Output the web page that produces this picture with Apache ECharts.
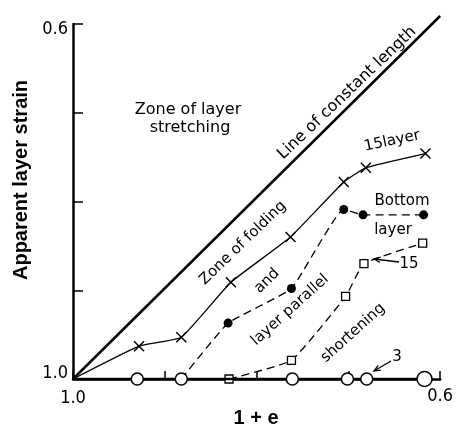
<!DOCTYPE html>
<html><head><meta charset="utf-8">
<script src="https://cdn.jsdelivr.net/npm/echarts@6/dist/echarts.min.js"></script>
<style>html,body{margin:0;padding:0;background:#fff}#c{width:456px;height:428px}</style>
</head><body><div id="c"></div>
<script>
// Data (x = 1+e, y = apparent layer strain)
const layer15X = [1.0, 0.928, 0.882, 0.828, 0.763, 0.705, 0.681, 0.616];
const layer15Y = [1.0, 0.963, 0.953, 0.891, 0.840, 0.778, 0.762, 0.746];
const bottomX = [0.882, 0.831, 0.762, 0.705, 0.684, 0.618];
const bottomY = [1.0, 0.937, 0.898, 0.809, 0.815, 0.815];
const sq15X = [0.830, 0.762, 0.703, 0.683, 0.619];
const sq15Y = [1.0, 0.979, 0.907, 0.870, 0.847];
const layer3X = [1.0, 0.930, 0.882, 0.761, 0.701, 0.680, 0.617];
const layer3Y = [1.0, 1.0, 1.0, 1.0, 1.0, 1.0, 1.0];
const constX = [1.0, 0.6];
const constY = [1.0, 0.591];
const xTickLabels = {'1.0': '{a|1.0}', '0.6': '{b|0.6}'};
const yTickLabels = {'1.0': '{a|1.0}', '0.6': '{b|0.6}'};

const TFONT = '"DejaVu Sans Condensed","Liberation Sans Narrow","DejaVu Sans",sans-serif';
const FONT = '"DejaVu Sans",sans-serif';
const zip = (a, b) => a.map((v, i) => [v, b[i]]);

const chart = echarts.init(document.getElementById('c'), null, {renderer: 'canvas'});
const crossPath = 'path://M0,0L10,10M10,0L0,10';

function fmt(map) {
  return v => { const k = (Math.round(v * 10) / 10).toFixed(1); return map[k] || ''; };
}

const l15 = zip(layer15X, layer15Y).map((p, i) => i === 0 ? {value: p, symbol: 'none'} : p);
const bot = zip(bottomX, bottomY).map((p, i) => i === 0 ? {value: p, symbol: 'none'} : p);
const l3 = zip(layer3X, layer3Y).map((p, i) => i === 0 ? {value: p, symbol: 'none'} : (i === layer3X.length - 1 ? {value: p, symbolSize: 15} : p));

function t(x, y, text, opts) {
  return {type: 'text', x: x, y: y, rotation: (opts && opts.rot || 0) * Math.PI / 180,
    style: {text: text, font: (opts && opts.font) || ('15px ' + FONT), fill: '#000', align: 'center', verticalAlign: 'middle'}};
}
function arrow(x1, y1, x2, y2) {
  const a = Math.atan2(y2 - y1, x2 - x1), L = 7, w = 0.4;
  return [
    {type: 'line', shape: {x1: x1, y1: y1, x2: x2, y2: y2}, style: {stroke: '#000', lineWidth: 1.3}},
    {type: 'polyline', shape: {points: [[x2 - L * Math.cos(a - w), y2 - L * Math.sin(a - w)], [x2, y2], [x2 - L * Math.cos(a + w), y2 - L * Math.sin(a + w)]]}, style: {stroke: '#000', lineWidth: 1.3, fill: null}}
  ];
}

const option = {
  animation: false,
  backgroundColor: '#fff',
  grid: {left: 73, right: 13, top: 24, bottom: 49, containLabel: false},
  xAxis: {
    type: 'value', min: 0.6, max: 1.0, interval: 0.1, inverse: true,
    axisLine: {show: true, lineStyle: {color: '#000', width: 2.5}},
    axisTick: {show: true, inside: true, length: 8, lineStyle: {color: '#000', width: 1.5}},
    splitLine: {show: false},
    axisLabel: {show: true, formatter: fmt(xTickLabels), color: '#000', margin: 8, showMinLabel: true, showMaxLabel: true,
      rich: {a: {fontFamily: TFONT, fontSize: 18, padding: [2, 0, 0, 0]},
             b: {fontFamily: TFONT, fontSize: 18, padding: [0, 0, 12, 0]}}}
  },
  yAxis: {
    type: 'value', min: 0.6, max: 1.0, interval: 0.1, inverse: true,
    axisLine: {show: true, lineStyle: {color: '#000', width: 2.5}},
    axisTick: {show: true, inside: true, length: 10, lineStyle: {color: '#000', width: 1.5}},
    splitLine: {show: false},
    axisLabel: {show: true, formatter: fmt(yTickLabels), color: '#000', margin: 5,
      rich: {a: {fontFamily: TFONT, fontSize: 18, padding: [0, 0, 12, 0]},
             b: {fontFamily: TFONT, fontSize: 18, padding: [10, 0, 0, 0]}}}
  },
  series: [
    {type: 'line', data: zip(constX, constY), symbol: 'none', clip: false,
      lineStyle: {color: '#000', width: 2.5}, z: 3},
    {type: 'line', data: l3, symbol: 'circle', symbolSize: 12, clip: false,
      lineStyle: {color: '#000', width: 2.5}, itemStyle: {color: '#fff', borderColor: '#000', borderWidth: 1.5}, z: 5},
    {type: 'line', data: l15, symbol: crossPath, symbolSize: 10, smooth: 0.12,
      lineStyle: {color: '#000', width: 1.3}, itemStyle: {color: 'rgba(0,0,0,0)', borderColor: '#000', borderWidth: 1.5}, z: 4},
    {type: 'line', data: bot, symbol: 'circle', symbolSize: 9, smooth: 0.12,
      lineStyle: {color: '#000', width: 1.3, type: [8, 5]}, itemStyle: {color: '#000', borderColor: '#000', borderWidth: 0}, z: 4},
    {type: 'line', data: zip(sq15X, sq15Y), symbol: 'rect', symbolSize: 8, smooth: 0.12,
      lineStyle: {color: '#000', width: 1.3, type: [8, 5]}, itemStyle: {color: '#fff', borderColor: '#000', borderWidth: 1.3}, z: 4}
  ],
  graphic: [
    t(21, 180, 'Apparent layer strain', {rot: 90, font: 'bold 20px "Liberation Sans",Arial,sans-serif'}),
    t(256, 418, '1 + e', {font: 'bold 20px "Liberation Sans",Arial,sans-serif'}),
    t(188, 110, 'Zone of layer', {font: '16px ' + FONT}),
    t(190, 128, 'stretching', {font: '16px ' + FONT}),
    t(347, 93, 'Line of constant length', {rot: 43.6, font: '16px ' + FONT}),
    t(392, 141, '15layer', {rot: 12}),
    t(402, 201, 'Bottom'),
    t(393, 230, 'layer'),
    t(409, 264, '15'),
    t(397, 357, '3'),
    t(243, 243, 'Zone of folding', {rot: 44}),
    t(267, 281, 'and', {rot: 44}),
    t(290, 310, 'layer parallel', {rot: 42}),
    t(353, 333, 'shortening', {rot: 42}),
    ...arrow(399, 262, 374, 259),
    ...arrow(391, 361, 374, 371)
  ]
};
chart.setOption(option);
</script></body></html>
